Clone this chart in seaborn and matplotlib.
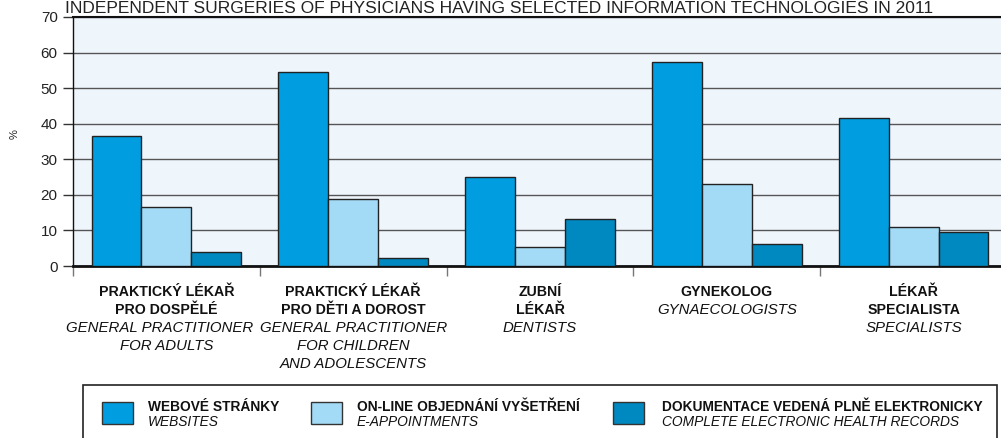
import matplotlib
matplotlib.use('Agg')
import matplotlib.pyplot as plt
from matplotlib.patches import Rectangle
from matplotlib.transforms import blended_transform_factory, offset_copy
import numpy as np
import pandas as pd
import seaborn as sns

TITLE = ('INDEPENDENT SURGERIES OF PHYSICIANS HAVING SELECTED '
         'INFORMATION TECHNOLOGIES IN 2011')

categories_cz = [
    ['PRAKTICKÝ LÉKAŘ', 'PRO DOSPĚLÉ'],
    ['PRAKTICKÝ LÉKAŘ', 'PRO DĚTI A DOROST'],
    ['ZUBNÍ', 'LÉKAŘ'],
    ['GYNEKOLOG'],
    ['LÉKAŘ', 'SPECIALISTA'],
]
categories_en = [
    ['GENERAL PRACTITIONER', 'FOR ADULTS'],
    ['GENERAL PRACTITIONER', 'FOR CHILDREN', 'AND ADOLESCENTS'],
    ['DENTISTS'],
    ['GYNAECOLOGISTS'],
    ['SPECIALISTS'],
]

series_cz = ['WEBOVÉ STRÁNKY', 'ON-LINE OBJEDNÁNÍ VYŠETŘENÍ',
             'DOKUMENTACE VEDENÁ PLNĚ ELEKTRONICKY']
series_en = ['WEBSITES', 'E-APPOINTMENTS', 'COMPLETE ELECTRONIC HEALTH RECORDS']

websites = [36.5, 54.6, 25.1, 57.4, 41.7]
appointments = [16.5, 18.8, 5.4, 23.0, 10.9]
health_records = [3.9, 2.2, 13.2, 6.1, 9.5]

colors = ['#009ee0', '#a3daf5', '#0088c0']

W, H = 1001, 438


def fx(px):
    return px / W


def fy(py):
    return 1 - py / H


def main():
    keys = [' '.join(c) for c in categories_cz]
    df = pd.DataFrame({
        'category': keys * 3,
        'series': np.repeat(series_en, len(keys)),
        'value': websites + appointments + health_records,
    })

    sns.set_style('white')
    plt.rcParams['font.family'] = ['Liberation Sans', 'DejaVu Sans']

    fig = plt.figure(figsize=(W / 100, H / 100), dpi=100)
    ax = fig.add_axes([fx(73), fy(266), fx(1007 - 73), (266 - 17) / H])
    ax.set_facecolor('#eef6fc')

    sns.barplot(df, x='category', y='value', hue='series', order=keys,
                hue_order=series_en, palette=colors, saturation=1,
                width=0.8, edgecolor='#222222', linewidth=1, legend=False,
                ax=ax, zorder=3)

    ax.set_xlim(-0.5, 4.5)
    ax.set_ylim(0, 70)
    ax.set_yticks(range(0, 71, 10))
    ax.set_yticklabels([str(v) for v in range(0, 71, 10)], fontsize=11,
                       color='#222222')
    ax.set_xticks(np.arange(-0.5, 4.6, 1))
    ax.set_xticklabels([])
    ax.set_xlabel('')
    ax.set_ylabel('')
    ax.yaxis.grid(True, color='#555555', linewidth=1, zorder=1)
    ax.set_axisbelow(True)
    ax.tick_params(axis='y', length=7, width=1, color='#333333', pad=4,
                   left=True)
    ax.tick_params(axis='x', length=7, width=1, color='#777777',
                   bottom=True)
    for side in ['left', 'top', 'bottom']:
        ax.spines[side].set_visible(True)
        ax.spines[side].set_color('#111111')
    ax.spines['left'].set_linewidth(1)
    ax.spines['top'].set_linewidth(1.5)
    ax.spines['bottom'].set_linewidth(2)
    ax.spines['right'].set_visible(False)

    fig.text(fx(65), fy(13), TITLE, fontsize=12.5, va='baseline', ha='left',
             color='#222222')

    fig.text(fx(15), fy(134), '%', rotation=90, fontsize=8,
             ha='center', va='center', color='#222222')

    trans = blended_transform_factory(ax.transData, fig.transFigure)
    for i, (cz, en) in enumerate(zip(categories_cz, categories_en)):
        y = 292
        for line in cz:
            ax.text(i, fy(y), line, transform=trans, ha='center',
                    va='center', fontsize=10.2, fontweight='bold',
                    color='#111111')
            y += 18
        for j, line in enumerate(en):
            t = trans
            if i == 0 and j == 0:
                # first long label sits a little left so it clears the next
                t = offset_copy(trans, fig=fig, x=-7, units='dots')
            ax.text(i, fy(y), line, transform=t, ha='center',
                    va='center', fontsize=10.8, fontstyle='italic',
                    color='#111111')
            y += 18

    fig.patches.append(Rectangle((fx(83), -0.1), fx(997 - 83),
                                 fy(385) + 0.1, transform=fig.transFigure,
                                 facecolor='white', edgecolor='#222222',
                                 linewidth=1.2))
    patch_x = [102, 311, 613]
    text_x = [148, 357, 662]
    for c, px, tx, cz, en in zip(colors, patch_x, text_x, series_cz,
                                 series_en):
        fig.patches.append(Rectangle((fx(px), fy(424)), fx(31),
                                     (424 - 402) / H,
                                     transform=fig.transFigure,
                                     facecolor=c, edgecolor='#333333',
                                     linewidth=1))
        fig.text(fx(tx), fy(407), cz, fontsize=9.9, fontweight='bold',
                 va='center', ha='left', color='#111111')
        fig.text(fx(tx), fy(422.5), en, fontsize=9.9, fontstyle='italic',
                 va='center', ha='left', color='#111111')

    fig.savefig('out.png', dpi=100)


if __name__ == '__main__':
    main()
